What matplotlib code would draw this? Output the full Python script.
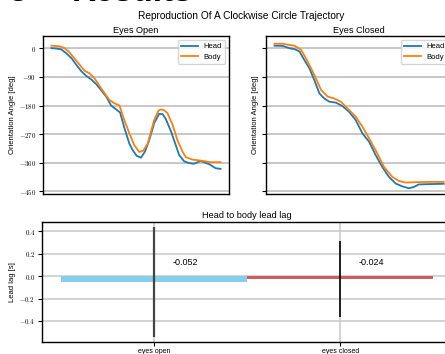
import matplotlib
matplotlib.use('Agg')
import matplotlib.pyplot as plt
from matplotlib.ticker import FuncFormatter

plt.rcParams['font.family'] = ['Liberation Sans', 'DejaVu Sans']
plt.rcParams['mathtext.fontset'] = 'cm'

# --- data: orientation angle [deg] over trial progress [%] ---
open_head_t = [0, 2.9, 5.9, 8.8, 11.8, 14.7, 17.6, 20.6, 23.5, 26.5, 29.4, 32.4, 35.3, 38.2,
               40.6, 43.1, 46.1, 48.0, 50.4, 52.9, 55.3, 57.8, 60.8, 63.7, 65.7, 67.6, 70.6,
               72.5, 75.5, 78.4, 81.4, 84.3, 88.2, 93.1, 97.1, 100]
open_head = [0, -1, -4, -16, -31, -52, -72, -87, -98, -113, -132, -152, -180, -192,
             -202, -250, -300, -320, -338, -344, -325, -289, -235, -206, -207, -222, -260,
             -289, -335, -355, -361, -363, -354, -364, -377, -379]
open_body_t = [0, 4.9, 7.8, 10.8, 13.7, 16.7, 19.6, 22.5, 25.5, 29.4, 34.3, 37.3, 40.2, 43.1,
               46.1, 49.0, 52.0, 54.3, 56.9, 60.8, 63.3, 64.7, 66.7, 68.6, 71.6, 74.5, 77.5,
               79.4, 83.3, 88.2, 94.1, 100]
open_body = [8, 6, 0, -14, -33, -52, -71, -79, -95, -126, -163, -173, -180, -226,
             -268, -305, -326, -322, -300, -225, -196, -192, -195, -204, -240, -289, -325,
             -342, -350, -353, -358, -358]

closed_head_t = [0, 4.9, 8.8, 11.8, 14.7, 17.6, 20.6, 23.5, 26.5, 29.4, 32.4, 36.3, 40.2, 44.1,
                 48.0, 52.0, 55.9, 59.8, 63.7, 67.6, 71.6, 75.5, 79.4, 82.4, 85.3, 91.2, 100]
closed_head = [8, 7, 0, -3, -10, -37, -63, -100, -142, -158, -168, -171, -182, -200,
               -226, -268, -294, -336, -373, -404, -425, -434, -440, -436, -428, -427, -426]
closed_body_t = [0, 4.9, 8.8, 11.8, 15.7, 19.6, 23.5, 27.5, 31.4, 35.3, 39.2, 43.1, 48.0, 52.0,
                 55.9, 60.8, 64.7, 69.6, 73.5, 77.5, 83.3, 91.2, 100]
closed_body = [14, 14, 10, 8, -5, -42, -84, -131, -152, -158, -168, -189, -215, -247,
               -283, -331, -373, -404, -417, -422, -421, -420, -420]

conditions = ['eyes open', 'eyes closed']
lead_lag = [-0.052, -0.024]
lead_lag_err = [0.487, 0.34]
bar_colors = ['skyblue', 'indianred']

fig = plt.figure(figsize=(4.45, 3.54), dpi=100)

# clipped document heading above the figure
fig.text(0.018, 0.997, '3', fontsize=24, weight='bold', va='baseline')
fig.text(0.162, 0.997, 'Results', fontsize=24, weight='bold', va='baseline')

fig.text(0.543, 0.955, 'Reproduction Of A Clockwise Circle Trajectory', fontsize=7.3,
         ha='center', va='center')

deg_fmt = FuncFormatter(lambda v, p: f'${v:.0f}$')

ax1 = fig.add_axes([0.0966, 0.452, 0.418, 0.446])
ax2 = fig.add_axes([0.598, 0.452, 0.418, 0.446], sharey=ax1)

for ax, title, ht, h, bt, b in [
        (ax1, 'Eyes Open', open_head_t, open_head, open_body_t, open_body),
        (ax2, 'Eyes Closed', closed_head_t, closed_head, closed_body_t, closed_body)]:
    ax.plot(ht, h, color='#1f77b4', lw=1.3, label='Head')
    ax.plot(bt, b, color='#ff7f0e', lw=1.3, label='Body')
    ax.set_title(title, fontsize=6.6, pad=2)
    ax.set_ylabel('Orientation Angle [deg]', fontsize=5.5, labelpad=2)
    ax.set_yticks([0, -90, -180, -270, -360, -450])
    ax.set_ylim(-458, 38)
    ax.yaxis.set_major_formatter(deg_fmt)
    ax.tick_params(axis='y', labelsize=5, length=3, width=0.8, pad=2)
    ax.set_xticks([])
    ax.grid(True, axis='y', color='#b8b8b8', lw=1.1)
    ax.set_axisbelow(True)
    for s in ax.spines.values():
        s.set_linewidth(1.0)
    ax.legend(loc='upper right', fontsize=5.5, handlelength=2.2, borderpad=0.4,
              labelspacing=0.4, framealpha=0.8)
ax2.tick_params(axis='y', labelleft=False)

ax3 = fig.add_axes([0.095, 0.034, 0.921, 0.339])
xs = range(len(conditions))
ax3.bar(xs, lead_lag, width=1.0, color=bar_colors)
ax3.errorbar(xs[0], lead_lag[0], yerr=lead_lag_err[0], fmt='none', ecolor='#444444', elinewidth=1.6)
ax3.errorbar(xs[1], lead_lag[1], yerr=lead_lag_err[1], fmt='none', ecolor='black', elinewidth=1.2)
for i, v in enumerate(lead_lag):
    ax3.text(i + 0.1, 0.1, f'{v:.3f}', fontsize=6.5)
ax3.set_xticks(list(xs))
ax3.set_xticklabels(conditions, fontsize=5)
ax3.set_yticks([0.4, 0.2, 0.0, -0.2, -0.4])
ax3.yaxis.set_major_formatter(FuncFormatter(lambda v, p: f'${v:.1f}$'))
ax3.tick_params(axis='y', labelsize=5, length=3, width=0.8, pad=2)
ax3.tick_params(axis='x', length=3, width=0.8, pad=1)
ax3.set_ylabel('Lead lag [s]', fontsize=5.5, labelpad=2)
ax3.set_title('Head to body lead lag', fontsize=6.6, pad=3)
ax3.grid(True, color='#c8c8c8', lw=1.1)
ax3.set_axisbelow(True)
for s in ax3.spines.values():
    s.set_linewidth(1.0)

fig.savefig('out.png', dpi=100)
